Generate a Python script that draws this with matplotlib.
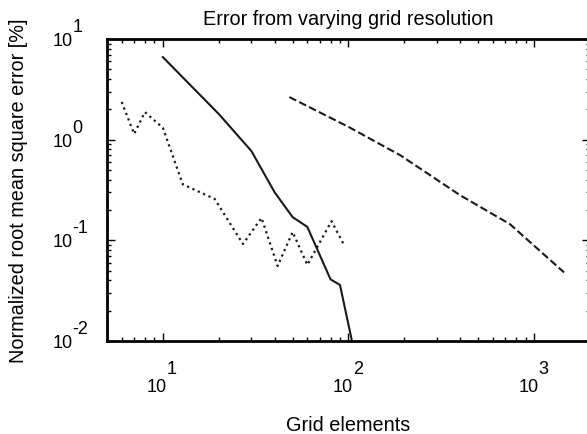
import matplotlib.pyplot as plt

plt.rcParams['font.family'] = ['Liberation Sans', 'DejaVu Sans']

# values
solid_x = [10, 20, 30, 40, 50, 60, 80, 90, 105]
solid_y = [6.6, 1.8, 0.77, 0.30, 0.17, 0.136, 0.041, 0.036, 0.0095]

dotted_x = [6, 7, 8, 10, 12.8, 19, 27, 34, 41.5, 50, 60, 81, 94]
dotted_y = [2.37, 1.14, 1.88, 1.31, 0.36, 0.258, 0.092, 0.167, 0.0556, 0.121, 0.057, 0.155, 0.092]

dashed_x = [48, 100, 190, 400, 740, 1450]
dashed_y = [2.65, 1.34, 0.70, 0.28, 0.145, 0.048]

x_decades = [1, 2, 3]
y_decades = [1, 0, -1, -2]

fig = plt.figure(figsize=(5.87, 4.35), dpi=100)
# axes run slightly past the right edge of the picture, as in the original
ax = fig.add_axes([107 / 587, 93 / 435, 483 / 587, 302 / 435])

ax.plot(solid_x, solid_y, color='#1a1a1a', lw=1.5, ls='-')
ax.plot(dotted_x, dotted_y, color='#1a1a1a', lw=1.6, ls=':')
ax.plot(dashed_x, dashed_y, color='#1a1a1a', lw=1.5, ls='--')

ax.set_xscale('log')
ax.set_yscale('log')
ax.set_xlim(5, 2000)
ax.set_ylim(0.01, 10)

for s in ax.spines.values():
    s.set_linewidth(2)
ax.tick_params(which='both', direction='in', top=True, right=True,
               labelbottom=False, labelleft=False, width=1)
ax.tick_params(which='major', length=6)
ax.tick_params(which='minor', length=3)

# matlab style tick labels: "10" with a full size exponent up to the right
for d in x_decades:
    ax.annotate('10', xy=(10.0 ** d, 0), xycoords=('data', 'axes fraction'),
                xytext=(3, -36), textcoords='offset points',
                ha='right', va='baseline', fontsize=13, annotation_clip=False)
    ax.annotate(str(d), xy=(10.0 ** d, 0), xycoords=('data', 'axes fraction'),
                xytext=(3, -23), textcoords='offset points',
                ha='left', va='baseline', fontsize=13, annotation_clip=False)
for d in y_decades:
    ax.annotate('10', xy=(0, 10.0 ** d), xycoords=('axes fraction', 'data'),
                xytext=(-25, -4.3), textcoords='offset points',
                ha='right', va='baseline', fontsize=13, annotation_clip=False)
    ax.annotate(str(d), xy=(0, 10.0 ** d), xycoords=('axes fraction', 'data'),
                xytext=(-25, 5.8), textcoords='offset points',
                ha='left', va='baseline', fontsize=13, annotation_clip=False)

ax.set_title('Error from varying grid resolution', fontsize=14.3, pad=10.8)
ax.annotate('Grid elements', xy=(0.5, 0), xycoords='axes fraction',
            xytext=(0, -64), textcoords='offset points',
            ha='center', va='baseline', fontsize=14.3)
ax.annotate('Normalized root mean square error [%]', xy=(0, 0.5), xycoords='axes fraction',
            xytext=(-64, 0), textcoords='offset points',
            ha='center', va='center', rotation=90, fontsize=14.3)

fig.savefig('out.png', dpi=100)
